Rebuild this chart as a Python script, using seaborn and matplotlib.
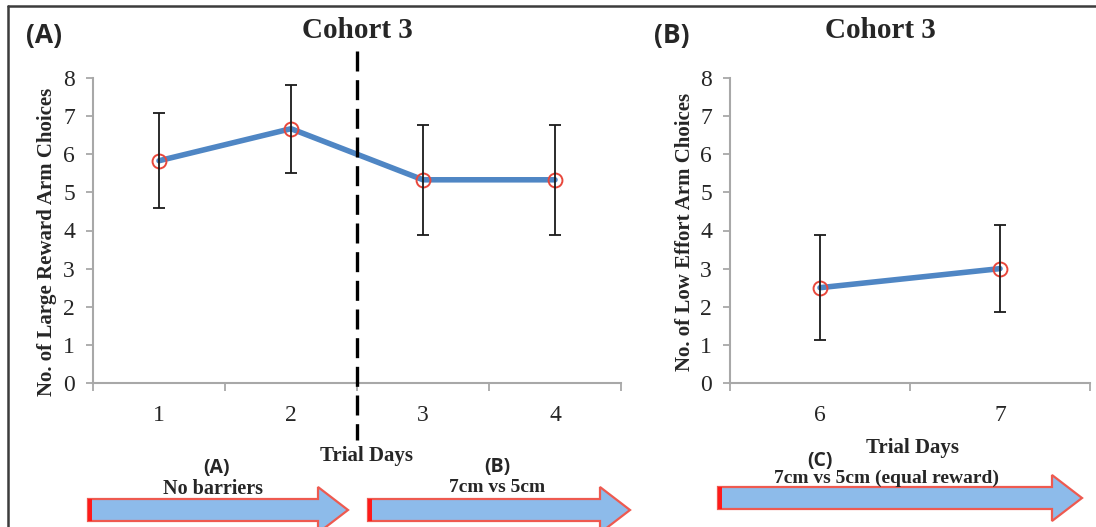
import numpy as np
import pandas as pd
import matplotlib
matplotlib.use('Agg')
import matplotlib.pyplot as plt
from matplotlib.patches import FancyArrow, Rectangle
from matplotlib.lines import Line2D
import seaborn as sns

# Dữ liệu
days_a = ['1', '2', '3', '4']
means_a = [5.83, 6.67, 5.33, 5.33]
err_a = [1.25, 1.15, 1.45, 1.45]

days_b = ['6', '7']
means_b = [2.5, 3.0]
err_b = [1.37, 1.15]

sns.set_style('ticks')
plt.rcParams['font.family'] = ['Liberation Serif', 'DejaVu Serif']

line_col = '#4f86c4'
ring_col = '#e8473b'
spine_col = '#a8a8a8'

fig = plt.figure(figsize=(10.96, 5.27), dpi=100)
W, H = 1096, 527


def box(x0, y0, x1, y1):
    # pixel box (top-left origin) -> figure fractions
    return [x0 / W, 1 - y1 / H, (x1 - x0) / W, (y1 - y0) / H]


ax1 = fig.add_axes(box(93, 78, 621, 383))
ax2 = fig.add_axes(box(730, 78, 1090, 383))


def draw_panel(ax, days, means, errs, ylabel, lab_xy):
    df = pd.DataFrame({'pos': np.arange(len(days)), 'mean': means})
    sns.lineplot(data=df, x='pos', y='mean', ax=ax, color=line_col, lw=4,
                 marker='o', markersize=10, markerfacecolor='none',
                 markeredgecolor=ring_col, markeredgewidth=1.4, zorder=3)
    ax.errorbar(df['pos'], df['mean'], yerr=errs, fmt='none', ecolor='#1a1a1a',
                elinewidth=1.3, capsize=4, capthick=1.3, zorder=4)
    n = len(days)
    ax.set_xlim(-0.5, n - 0.5)
    ax.set_ylim(0, 8)
    ax.set_yticks(range(0, 9))
    ax.set_xticks(np.arange(-0.5, n, 1.0))
    ax.set_xticklabels([])
    ax.set_xticks(np.arange(n), minor=True)
    ax.set_xticklabels(days, minor=True)
    ax.tick_params(axis='x', which='major', length=6, width=1.3, color=spine_col)
    ax.tick_params(axis='x', which='minor', length=0, labelsize=17, pad=16)
    ax.tick_params(axis='y', length=5, width=1.3, color=spine_col, labelsize=17, pad=8)
    sns.despine(ax=ax)
    for s in ['left', 'bottom']:
        ax.spines[s].set_color(spine_col)
        ax.spines[s].set_linewidth(1.5)
    ax.set_xlabel('')
    ax.set_ylabel(ylabel, fontsize=15, fontweight='bold')
    ax.yaxis.set_label_coords(*lab_xy)


draw_panel(ax1, days_a, means_a, err_a, 'No. of Large Reward Arm Choices', (-0.068, 0.462))
draw_panel(ax2, days_b, means_b, err_b, 'No. of Low Effort Arm Choices', (-0.098, 0.495))

# đường phân cách nét đứt giữa ngày 2 và 3
ax1.plot([1.5, 1.5], [8.7, -1.5], color='black', lw=2.4,
         ls=(0, (6, 2.6)), clip_on=False, zorder=5)

# tiêu đề và nhãn
fig.text(357 / W, 1 - 31 / H, 'Cohort 3', ha='center', va='center',
         fontsize=21, fontweight='bold')
fig.text(880 / W, 1 - 31 / H, 'Cohort 3', ha='center', va='center',
         fontsize=21, fontweight='bold')
sans = ['Open Sans', 'DejaVu Sans']
fig.text(44 / W, 1 - 35 / H, '(A)', ha='center', va='center',
         fontsize=19, fontweight='bold', family=sans)
fig.text(672 / W, 1 - 35 / H, '(B)', ha='center', va='center',
         fontsize=19, fontweight='bold', family=sans)

fig.text(367 / W, 1 - 456 / H, 'Trial Days', ha='center', va='center',
         fontsize=15, fontweight='bold')
fig.text(912 / W, 1 - 448 / H, 'Trial Days', ha='center', va='center',
         fontsize=15, fontweight='bold')

fig.text(217 / W, 1 - 468 / H, '(A)', ha='center', va='center',
         fontsize=14, fontweight='bold', family=sans)
fig.text(213 / W, 1 - 489 / H, 'No barriers', ha='center', va='center',
         fontsize=14.5, fontweight='bold')
fig.text(497 / W, 1 - 467 / H, '(B)', ha='center', va='center',
         fontsize=14, fontweight='bold', family=sans)
fig.text(497 / W, 1 - 488 / H, '7cm vs 5cm', ha='center', va='center',
         fontsize=14, fontweight='bold')
fig.text(820 / W, 1 - 461 / H, '(C)', ha='center', va='center',
         fontsize=14, fontweight='bold', family=sans)
fig.text(886 / W, 1 - 478 / H, '7cm vs 5cm (equal reward)', ha='center', va='center',
         fontsize=14, fontweight='bold')


# mũi tên giai đoạn
def phase_arrow(x0, x1, yc):
    body = 22
    head_w = 46
    head_l = 30
    arr = FancyArrow(x0 / W, 1 - yc / H, (x1 - x0) / W, 0,
                     width=body / H, head_width=head_w / H, head_length=head_l / W,
                     length_includes_head=True, transform=fig.transFigure,
                     facecolor='#8dbbea', edgecolor='#ee5a50', lw=1.6, zorder=2)
    fig.patches.append(arr)
    fig.patches.append(Rectangle((x0 / W, 1 - (yc + body / 2) / H), 4 / W, body / H,
                                 transform=fig.transFigure, facecolor='#ff1a1a',
                                 edgecolor='none', zorder=3))


phase_arrow(88, 348, 510)
phase_arrow(368, 630, 510)
phase_arrow(718, 1082, 498)

# khung viền ảnh
fig.lines.append(Line2D([8 / W, 1], [1 - 6 / H, 1 - 6 / H], transform=fig.transFigure,
                        color='#3c3c3c', lw=1.8))
fig.lines.append(Line2D([8 / W, 8 / W], [0, 1 - 6 / H], transform=fig.transFigure,
                        color='#3c3c3c', lw=1.8))

fig.savefig('out.png', dpi=100)
